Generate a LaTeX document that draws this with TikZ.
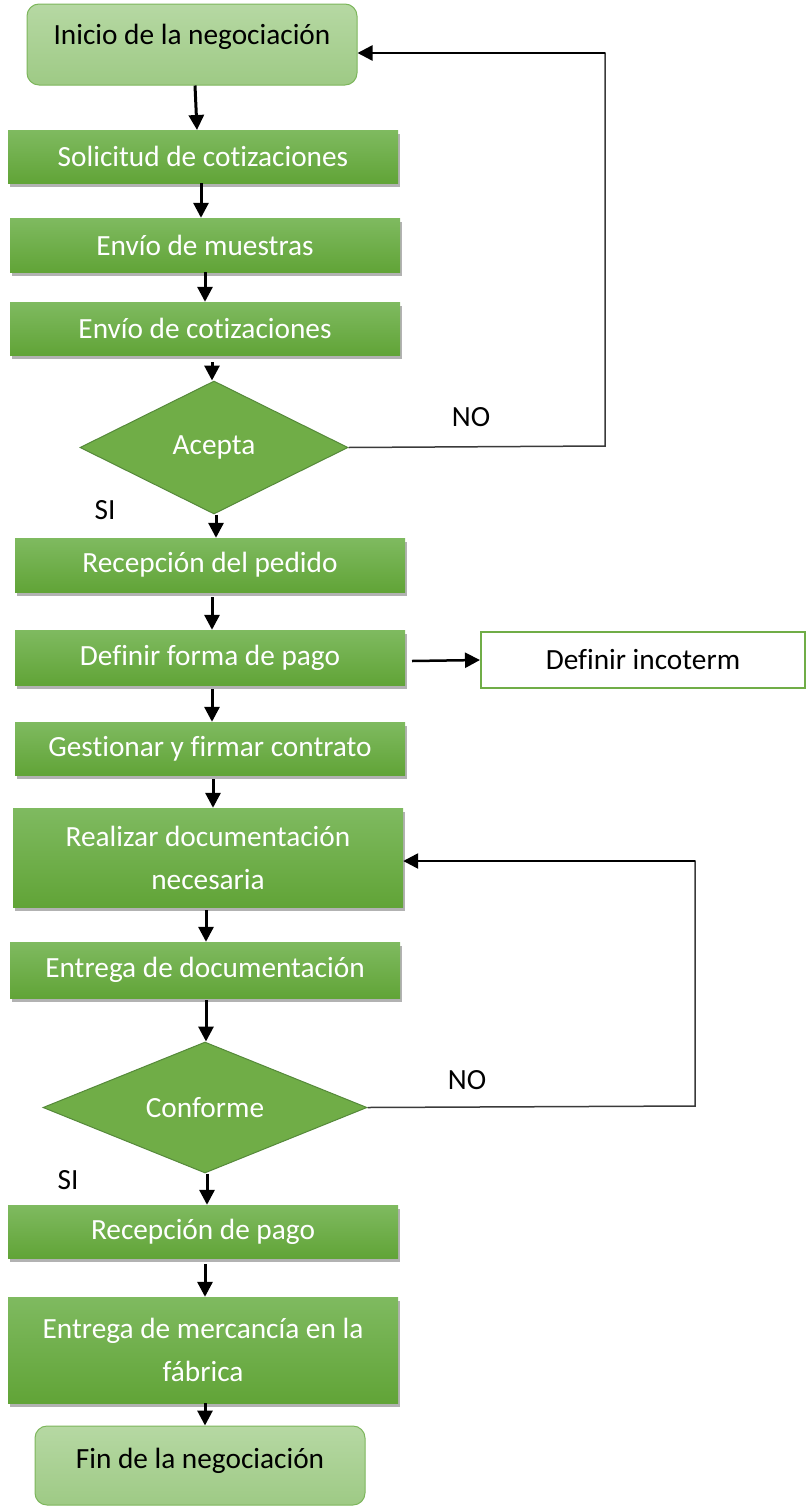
\documentclass[tikz,border=0pt]{standalone}
\usepackage{fontspec}
\setmainfont{Carlito}[Ligatures=NoCommon]
\usetikzlibrary{shapes.geometric,shadows,arrows.meta}
\definecolor{gtop}{HTML}{7FBA60}
\definecolor{gbot}{HTML}{61A437}
\definecolor{ltop}{HTML}{B6D8A3}
\definecolor{lbot}{HTML}{9ECA85}
\definecolor{lborder}{HTML}{7DB65C}
\definecolor{dfill}{HTML}{70AD47}
\definecolor{dborder}{HTML}{55893A}
\definecolor{loopline}{HTML}{3A3A3A}
\tikzset{
  txt/.style={font=\fontsize{29.3}{43}\selectfont},
  stepbox/.style={rectangle, minimum width=390pt, inner sep=0pt, align=center,
    top color=gtop, bottom color=gbot, draw=none, text=white, txt,
    drop shadow={shadow xshift=2pt, shadow yshift=-4pt, opacity=0.3, fill=black}},
  termbox/.style={rectangle, rounded corners=12pt, minimum width=330pt, inner sep=0pt,
    top color=ltop, bottom color=lbot, draw=lborder, line width=1pt, text=black, txt},
  decision/.style={diamond, aspect=2, inner sep=0pt, fill=dfill, draw=dborder,
    line width=1pt, text=white, txt},
  sidebox/.style={rectangle, minimum width=324pt, minimum height=56pt, inner sep=0pt,
    fill=white, draw=dfill, line width=2pt, text=black, txt},
  flow/.style={line width=3pt, -{Triangle[width=15pt,length=15pt]}},
  back/.style={draw=loopline, line width=1.5pt},
  backarrow/.style={line width=2.5pt, -{Triangle[width=15pt,length=15pt]}},
  tag/.style={txt, text=black}
}
\begin{document}
\begin{tikzpicture}[x=1pt,y=-1pt]
\useasboundingbox (0,0) rectangle (806,1507);

% main column
\node[termbox, minimum height=81pt, text depth=20pt] (start) at (192,44.5) {Inicio de la negociación};
\node[stepbox, minimum height=53pt] (sol) at (203,156.5) {Solicitud de cotizaciones};
\node[stepbox, minimum height=54pt] (mue) at (205,245) {Envío de muestras};
\node[stepbox, minimum height=53pt] (cot) at (205,328.5) {Envío de cotizaciones};
\node[decision, minimum width=268pt, minimum height=133pt] (acepta) at (214,447.5) {Acepta};
\node[stepbox, minimum height=54pt] (ped) at (210,565) {Recepción del pedido};
\node[stepbox, minimum height=55pt] (forma) at (210,657.5) {Definir forma de pago};
\node[sidebox] (inco) at (643,660) {Definir incoterm};
\node[stepbox, minimum height=53pt] (cont) at (210,748.5) {Gestionar y firmar contrato};
\node[stepbox, minimum height=99pt] (doc) at (208,857.5) {Realizar documentación\\necesaria};
\node[stepbox, minimum height=56pt] (ent) at (205,970) {Entrega de documentación};
\node[decision, minimum width=324pt, minimum height=131pt] (conf) at (205,1107.5) {Conforme};
\node[stepbox, minimum height=53pt] (pago) at (203,1231.5) {Recepción de pago};
\node[stepbox, minimum height=106pt] (merc) at (203,1350) {Entrega de mercancía en la\\fábrica};
\node[termbox, minimum height=79pt, text depth=14pt] (fin) at (200,1465.5) {Fin de la negociación};

% labels
\node[tag] (no1) at (471,417) {NO};
\node[tag] (si1) at (105,510) {SI};
\node[tag] (no2) at (467,1080) {NO};
\node[tag] (si2) at (68,1180) {SI};

% loop corners
\coordinate (c1) at (605,446);
\coordinate (c2) at (605,53);
\coordinate (c3) at (695,1106);
\coordinate (c4) at (695,861);

% connectors
\draw[flow] (start.south -| 195,0) -- (197,130);
\draw[flow] (sol.south -| 201,0) -- (mue.north -| 201,0);
\draw[flow] (mue.south -| 205,0) -- (cot.north -| 205,0);
\draw[flow] (212,362) -- (acepta.north -| 212,0);
\draw[flow] (acepta.south -| 216,0) -- (ped.north -| 216,0);
\draw[flow] (212,597) -- (forma.north -| 212,0);
\draw[flow] (212,689) -- (cont.north -| 212,0);
\draw[flow] (213,779) -- (doc.north -| 213,0);
\draw[flow] (206,910) -- (ent.north -| 206,0);
\draw[flow] (206,1000) -- (conf.north -| 206,0);
\draw[flow] (conf.south -| 207,0) -- (pago.north -| 207,0);
\draw[flow] (205,1264) -- (merc.north -| 205,0);
\draw[flow] (merc.south -| 205,0) -- (fin.north -| 205,0);

\draw[backarrow] (412,661) -- (inco.west);

\draw[back] (acepta.east) -- (c1) -- (c2) -- (600,53);
\draw[backarrow] (605,53) -- (start.east |- 0,53);
\draw[back] (conf.east) -- (c3) -- (c4) -- (690,861);
\draw[backarrow] (695,861) -- (doc.east |- 0,861);
\end{tikzpicture}
\end{document}
